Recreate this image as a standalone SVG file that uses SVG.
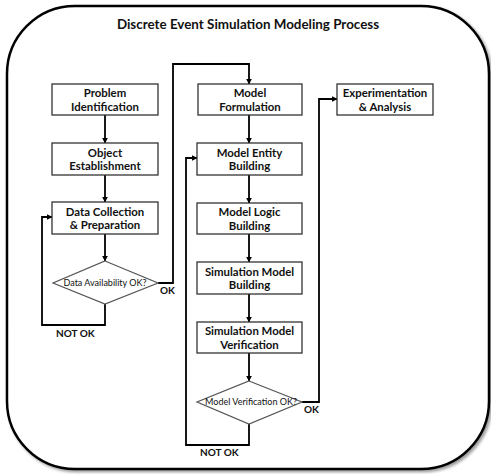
<svg xmlns="http://www.w3.org/2000/svg" width="491" height="474" viewBox="0 0 491 474">
<style>
.box{fill:#fff;stroke:#333;stroke-width:1.3}
.dia{fill:#fff;stroke:#555;stroke-width:1.2}
.bt{font-family:Lato,"Open Sans",sans-serif;font-weight:bold;font-size:11.4px;fill:#111;text-anchor:middle}
.dt{font-family:Lato,"Open Sans",sans-serif;font-size:9px;fill:#111;text-anchor:middle}
.lt{font-family:Lato,"Open Sans",sans-serif;font-weight:bold;font-size:10px;fill:#111}
.title{font-family:Lato,"Open Sans",sans-serif;font-weight:bold;font-size:13.4px;fill:#111;text-anchor:middle}
.c{fill:none;stroke:#000;stroke-width:1.8}
</style>
<defs>
<marker id="ah" viewBox="0 0 10 10" refX="9" refY="5" markerWidth="6" markerHeight="6" markerUnits="userSpaceOnUse" orient="auto">
<path d="M0,0 L10,5 L0,10 z" fill="#000"/>
</marker>
<filter id="sh" x="-5%" y="-5%" width="110%" height="110%">
<feDropShadow dx="2" dy="2" stdDeviation="1.5" flood-color="#000" flood-opacity="0.4"/>
</filter>
</defs>
<rect id="frame" x="7" y="6" width="482" height="463" rx="68" ry="68" fill="#fff" stroke="#000" stroke-width="2.5" filter="url(#sh)"/>
<text class="title" x="248" y="29">Discrete Event Simulation Modeling Process</text>
<g id="connectors">
<line class="c" x1="105" y1="115" x2="105" y2="143" marker-end="url(#ah)"/>
<line class="c" x1="105" y1="175" x2="105" y2="202" marker-end="url(#ah)"/>
<line class="c" x1="105" y1="234" x2="105" y2="261" marker-end="url(#ah)"/>
<polyline class="c" points="105,304 105,325 42,325 42,217 52,217" marker-end="url(#ah)"/>
<polyline class="c" points="158,283 173,283 173,64 249,64 249,84" marker-end="url(#ah)"/>
<line class="c" x1="249" y1="115" x2="249" y2="143" marker-end="url(#ah)"/>
<line class="c" x1="249" y1="175" x2="249" y2="203" marker-end="url(#ah)"/>
<line class="c" x1="249" y1="234" x2="249" y2="262" marker-end="url(#ah)"/>
<line class="c" x1="249" y1="294" x2="249" y2="322" marker-end="url(#ah)"/>
<line class="c" x1="249" y1="353" x2="249" y2="381" marker-end="url(#ah)"/>
<polyline class="c" points="249,424 249,445 186,445 186,158 197,158" marker-end="url(#ah)"/>
<polyline class="c" points="302,402 319,402 319,99 337,99" marker-end="url(#ah)"/>
<text class="lt" x="160" y="294">OK</text>
<text class="lt" x="56" y="337">NOT OK</text>
<text class="lt" x="304" y="413">OK</text>
<text class="lt" x="200" y="456">NOT OK</text>
</g>
<g id="problem">
<rect class="box" x="52" y="84" width="106" height="31"/>
<text class="bt" x="105" y="97">Problem</text>
<text class="bt" x="105" y="110.5">Identification</text>
</g>
<g id="object">
<rect class="box" x="52" y="143" width="106" height="32"/>
<text class="bt" x="105" y="156.5">Object</text>
<text class="bt" x="105" y="170">Establishment</text>
</g>
<g id="data">
<rect class="box" x="52" y="202" width="106" height="32"/>
<text class="bt" x="105" y="215.5">Data Collection</text>
<text class="bt" x="105" y="229">&amp; Preparation</text>
</g>
<g id="data-check">
<polygon class="dia" points="105,261 158,283 105,304 53,283"/>
<text class="dt" x="105" y="286">Data Availability OK?</text>
</g>
<g id="formulation">
<rect class="box" x="198" y="84" width="104" height="31"/>
<text class="bt" x="250" y="97">Model</text>
<text class="bt" x="250" y="110.5">Formulation</text>
</g>
<g id="entity">
<rect class="box" x="197" y="143" width="105" height="32"/>
<text class="bt" x="249.5" y="156.5">Model Entity</text>
<text class="bt" x="249.5" y="170">Building</text>
</g>
<g id="logic">
<rect class="box" x="197" y="203" width="105" height="31"/>
<text class="bt" x="249.5" y="216">Model Logic</text>
<text class="bt" x="249.5" y="229.5">Building</text>
</g>
<g id="sim-building">
<rect class="box" x="197" y="262" width="105" height="32"/>
<text class="bt" x="249.5" y="275.5">Simulation Model</text>
<text class="bt" x="249.5" y="289">Building</text>
</g>
<g id="sim-verification">
<rect class="box" x="197" y="322" width="105" height="31"/>
<text class="bt" x="249.5" y="335">Simulation Model</text>
<text class="bt" x="249.5" y="348.5">Verification</text>
</g>
<g id="verify-check">
<polygon class="dia" points="249,381 302,402 249,424 197,402"/>
<text class="dt" x="251" y="405">Model Verification OK?</text>
</g>
<g id="experimentation">
<rect class="box" x="337" y="84" width="96" height="31"/>
<text class="bt" x="385" y="97">Experimentation</text>
<text class="bt" x="385" y="110.5">&amp; Analysis</text>
</g>
</svg>
